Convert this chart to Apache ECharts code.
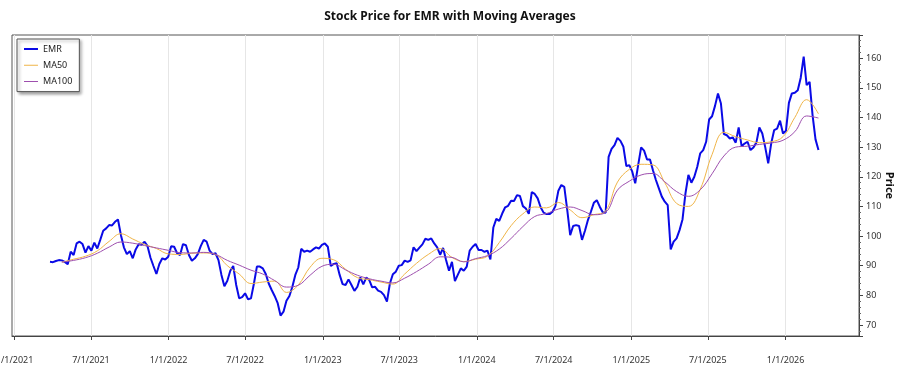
<!DOCTYPE html>
<html>
<head>
<meta charset="utf-8">
<script src="https://cdn.jsdelivr.net/npm/echarts@6/dist/echarts.min.js"></script>
<style>
    html, body { margin: 0; padding: 0; background: #fff; }
    #chart { width: 900px; height: 375px; }
</style>
</head>
<body>
<div id="chart"></div>
<script>
//周收盘日期
let dates = [
    '2021-03-26', '2021-04-02', '2021-04-09', '2021-04-16', '2021-04-23', '2021-04-30', '2021-05-07', '2021-05-14', '2021-05-21', '2021-05-28',
    '2021-06-04', '2021-06-11', '2021-06-18', '2021-06-25', '2021-07-02', '2021-07-09', '2021-07-16', '2021-07-23', '2021-07-30', '2021-08-06',
    '2021-08-13', '2021-08-20', '2021-08-27', '2021-09-03', '2021-09-10', '2021-09-17', '2021-09-24', '2021-10-01', '2021-10-08', '2021-10-15',
    '2021-10-22', '2021-10-29', '2021-11-05', '2021-11-12', '2021-11-19', '2021-11-26', '2021-12-03', '2021-12-10', '2021-12-17', '2021-12-24',
    '2021-12-31',
    '2022-01-07', '2022-01-14', '2022-01-21', '2022-01-28', '2022-02-04', '2022-02-11', '2022-02-18', '2022-02-25', '2022-03-04', '2022-03-11',
    '2022-03-18', '2022-03-25', '2022-04-01', '2022-04-08', '2022-04-15', '2022-04-22', '2022-04-29', '2022-05-06', '2022-05-13', '2022-05-20',
    '2022-05-27', '2022-06-03', '2022-06-10', '2022-06-17', '2022-06-24', '2022-07-01', '2022-07-08', '2022-07-15', '2022-07-22', '2022-07-29',
    '2022-08-05', '2022-08-12', '2022-08-19', '2022-08-26', '2022-09-02', '2022-09-09', '2022-09-16', '2022-09-23', '2022-09-30', '2022-10-07',
    '2022-10-14', '2022-10-21', '2022-10-28', '2022-11-04', '2022-11-11', '2022-11-18', '2022-11-25', '2022-12-02', '2022-12-09', '2022-12-16',
    '2022-12-23', '2022-12-30',
    '2023-01-06', '2023-01-13', '2023-01-20', '2023-01-27', '2023-02-03', '2023-02-10', '2023-02-17', '2023-02-24', '2023-03-03', '2023-03-10',
    '2023-03-17', '2023-03-24', '2023-03-31', '2023-04-07', '2023-04-14', '2023-04-21', '2023-04-28', '2023-05-05', '2023-05-12', '2023-05-19',
    '2023-05-26', '2023-06-02', '2023-06-09', '2023-06-16', '2023-06-23', '2023-06-30', '2023-07-07', '2023-07-14', '2023-07-21', '2023-07-28',
    '2023-08-04', '2023-08-11', '2023-08-18', '2023-08-25', '2023-09-01', '2023-09-08', '2023-09-15', '2023-09-22', '2023-09-29', '2023-10-06',
    '2023-10-13', '2023-10-20', '2023-10-27', '2023-11-03', '2023-11-10', '2023-11-17', '2023-11-24', '2023-12-01', '2023-12-08', '2023-12-15',
    '2023-12-22', '2023-12-29',
    '2024-01-05', '2024-01-12', '2024-01-19', '2024-01-26', '2024-02-02', '2024-02-09', '2024-02-16', '2024-02-23', '2024-03-01', '2024-03-08',
    '2024-03-15', '2024-03-22', '2024-03-29', '2024-04-05', '2024-04-12', '2024-04-19', '2024-04-26', '2024-05-03', '2024-05-10', '2024-05-17',
    '2024-05-24', '2024-05-31', '2024-06-07', '2024-06-14', '2024-06-21', '2024-06-28', '2024-07-05', '2024-07-12', '2024-07-19', '2024-07-26',
    '2024-08-02', '2024-08-09', '2024-08-16', '2024-08-23', '2024-08-30', '2024-09-06', '2024-09-13', '2024-09-20', '2024-09-27', '2024-10-04',
    '2024-10-11', '2024-10-18', '2024-10-25', '2024-11-01', '2024-11-08', '2024-11-15', '2024-11-22', '2024-11-29', '2024-12-06', '2024-12-13',
    '2024-12-20', '2024-12-27',
    '2025-01-03', '2025-01-10', '2025-01-17', '2025-01-24', '2025-01-31', '2025-02-07', '2025-02-14', '2025-02-21', '2025-02-28', '2025-03-07',
    '2025-03-14', '2025-03-21', '2025-03-28', '2025-04-04', '2025-04-11', '2025-04-18', '2025-04-25', '2025-05-02', '2025-05-09', '2025-05-16',
    '2025-05-23', '2025-05-30', '2025-06-06', '2025-06-13', '2025-06-20', '2025-06-27', '2025-07-04', '2025-07-11', '2025-07-18', '2025-07-25',
    '2025-08-01', '2025-08-08', '2025-08-15', '2025-08-22', '2025-08-29', '2025-09-05', '2025-09-12', '2025-09-19', '2025-09-26', '2025-10-03',
    '2025-10-10', '2025-10-17', '2025-10-24', '2025-10-31', '2025-11-07', '2025-11-14', '2025-11-21', '2025-11-28', '2025-12-05', '2025-12-12',
    '2025-12-19', '2025-12-26',
    '2026-01-02', '2026-01-09', '2026-01-16', '2026-01-23', '2026-01-30', '2026-02-06', '2026-02-13', '2026-02-20', '2026-02-27', '2026-03-06',
    '2026-03-13', '2026-03-20'
];
//EMR收盘价
let emr = [
    91.3, 91.2, 91.6, 91.9, 91.8, 91.3, 90.5, 94.7, 93.6, 97.5,
    98.1, 97.3, 94.4, 96.6, 95.1, 97.8, 95.8, 98.7, 101.8, 102.6,
    103.7, 103.6, 104.8, 105.6, 100.3, 96.2, 93.9, 94.9, 92.5, 95.5,
    97.2, 97.1, 98.1, 96.6, 92.7, 89.9, 87.2, 90.6, 92.5, 92.1,
    93.0, 96.6, 96.4, 94.2, 93.6, 97.3, 96.9, 93.6, 91.7, 92.5,
    93.9, 96.6, 98.7, 98.1, 95.1, 93.9, 94.2, 91.9, 86.9, 83.1,
    84.9, 88.3, 89.9, 83.5, 79.0, 79.4, 80.7, 78.7, 79.0, 84.0,
    89.7, 89.7, 89.1, 87.2, 84.0, 81.8, 79.8, 77.5, 73.2, 74.5,
    78.2, 79.8, 82.9, 86.9, 89.4, 95.7, 94.7, 95.1, 94.7, 95.5,
    96.2, 95.8, 97.0, 97.5, 96.4, 89.9, 90.6, 90.8, 86.9, 83.8,
    83.5, 85.4, 83.5, 81.5, 82.9, 86.1, 83.7, 86.0, 85.2, 82.7,
    82.9, 81.6, 81.2, 80.1, 77.9, 84.0, 87.1, 88.0, 90.0, 90.2,
    91.7, 91.3, 91.8, 96.2, 94.9, 96.1, 97.2, 99.1, 98.7, 99.2,
    97.5, 96.2, 93.7, 96.0, 91.9, 88.3, 91.3, 84.8, 87.0, 89.1,
    88.3, 89.7, 95.1, 96.4, 97.3, 95.3, 95.3, 94.7, 95.1, 92.1,
    102.9, 105.8, 105.1, 107.6, 109.7, 110.2, 111.9, 111.8, 113.8, 113.5,
    110.1, 109.3, 107.5, 114.8, 114.2, 112.7, 109.7, 107.9, 107.4, 107.4,
    108.2, 110.1, 115.3, 117.2, 116.6, 108.8, 100.3, 103.4, 103.7, 103.4,
    98.7, 101.8, 105.4, 108.2, 111.2, 112.1, 109.9, 108.0, 107.9, 126.7,
    129.4, 130.7, 133.1, 132.1, 130.1, 123.6, 123.9, 121.7, 117.8, 123.9,
    129.9, 128.8, 125.8, 125.8, 122.2, 118.9, 116.1, 113.3, 111.6, 110.4,
    95.5, 98.1, 99.2, 102.0, 105.6, 114.4, 120.6, 118.0, 120.0, 123.4,
    127.9, 129.0, 131.8, 139.3, 140.4, 143.9, 148.1, 144.7, 134.4, 134.0,
    132.9, 133.3, 131.5, 136.6, 130.3, 131.2, 131.8, 129.0, 129.9, 131.5,
    136.6, 134.6, 129.9, 124.5, 131.2, 135.7, 136.2, 138.9, 134.6, 135.5,
    144.9, 148.1, 148.3, 149.2, 153.4, 160.5, 150.9, 152.0, 140.8, 132.6,
    129.0
];
//均线取样日期（每四周）
let maDates = [
    '2021-04-23', '2021-05-21', '2021-06-18', '2021-07-16', '2021-08-13', '2021-09-10', '2021-10-08', '2021-11-05', '2021-12-03', '2021-12-31',
    '2022-01-28', '2022-02-25', '2022-03-25', '2022-04-22', '2022-05-20', '2022-06-17', '2022-07-15', '2022-08-12', '2022-09-09', '2022-10-07',
    '2022-11-04', '2022-12-02', '2022-12-30', '2023-01-27', '2023-02-24', '2023-03-24', '2023-04-21', '2023-05-19', '2023-06-16', '2023-07-14',
    '2023-08-11', '2023-09-08', '2023-10-06', '2023-11-03', '2023-12-01', '2023-12-29', '2024-01-26', '2024-02-23', '2024-03-22', '2024-04-19',
    '2024-05-17', '2024-06-14', '2024-07-12', '2024-08-09', '2024-09-06', '2024-10-04', '2024-11-01', '2024-11-29', '2024-12-27', '2025-01-24',
    '2025-02-21', '2025-03-21', '2025-04-18', '2025-05-16', '2025-06-13', '2025-07-11', '2025-08-08', '2025-09-05', '2025-10-03', '2025-10-31',
    '2025-11-28', '2025-12-26', '2026-01-23', '2026-02-20', '2026-03-20'
];
let ma50 = [
    91.2, 92.2, 93.2, 95.0, 98.2, 100.8, 99.0, 97.2, 95.8, 94.0,
    93.8, 94.2, 94.3, 93.8, 90.0, 87.2, 84.0, 84.5, 84.8, 81.0,
    83.5, 89.5, 92.5, 92.0, 88.8, 86.0, 85.3, 84.5, 83.8, 87.2,
    90.8, 93.8, 95.8, 92.8, 91.4, 92.2, 93.2, 97.8, 103.5, 107.5,
    109.8, 109.5, 111.3, 108.8, 106.2, 107.2, 108.5, 118.2, 122.5, 124.2,
    124.0, 118.0, 111.0, 110.0, 115.8, 127.5, 135.0, 133.5, 132.4, 131.5,
    131.8, 133.5, 140.0, 146.0, 141.2
];
let ma100 = [
    91.2, 91.8, 92.7, 94.2, 96.3, 98.0, 97.6, 96.8, 96.0, 95.2,
    94.4, 94.3, 94.5, 93.8, 91.8, 90.2, 88.5, 87.2, 85.0, 82.8,
    83.4, 86.8, 89.8, 90.5, 88.6, 86.8, 85.6, 84.8, 84.2, 85.8,
    88.0, 90.5, 93.0, 92.8, 91.3, 92.4, 93.4, 95.6, 99.2, 103.2,
    106.6, 107.6, 109.1, 109.8, 108.6, 107.2, 108.0, 115.5, 118.5, 120.6,
    121.1, 118.3, 115.0, 113.4, 115.6, 121.0, 127.0, 130.0, 130.3, 130.9,
    131.4, 132.3, 135.2, 140.5, 139.8
];
//横轴刻度
let tickDates = [
    '2021-01-01', '2021-07-01', '2022-01-01', '2022-07-01', '2023-01-01', '2023-07-01',
    '2024-01-01', '2024-07-01', '2025-01-01', '2025-07-01', '2026-01-01'
];

let font = "'Segoe UI', 'Noto Sans', sans-serif";
let toTime = function (s) {
    return +new Date(s + 'T00:00:00');
};
let tickValues = tickDates.map(toTime);
//图例线段图标（不同线宽）
let thickIcon = 'path://M0,0H0.01V0.01H0Z M0,2H14V4H0Z M0,6H0.01V6.01H0Z';
let thinIcon = 'path://M0,0H0.01V0.01H0Z M0,2.5H14V3.5H0Z M0,6H0.01V6.01H0Z';

var myChart = echarts.init(document.getElementById('chart'));
var option = {
    animation: false,
    backgroundColor: '#fff',
    title: {
        text: 'Stock Price for EMR with Moving Averages',
        left: 'center',
        top: 6,
        textStyle: { fontSize: 12, fontWeight: 'bold', color: '#111', fontFamily: font }
    },
    legend: {
        orient: 'vertical',
        left: 17,
        top: 39,
        data: [
            { name: 'EMR', icon: thickIcon },
            { name: 'MA50', icon: thinIcon },
            { name: 'MA100', icon: thinIcon }
        ],
        itemWidth: 14,
        itemHeight: 6,
        itemGap: 4.3,
        padding: [4, 7, 4, 7],
        borderColor: '#555',
        borderWidth: 1,
        backgroundColor: '#fff',
        shadowColor: 'rgba(0,0,0,0.35)',
        shadowBlur: 3,
        shadowOffsetX: 2,
        shadowOffsetY: 2,
        textStyle: { fontSize: 9, lineHeight: 12, color: '#222', fontFamily: font }
    },
    grid: {
        left: 12,
        right: 41,
        top: 35,
        bottom: 39,
        outerBoundsMode: 'none',
        containLabel: false,
        show: true,
        borderColor: '#555',
        borderWidth: 1
    },
    xAxis: {
        type: 'value',
        min: toTime('2020-12-26'),
        max: toTime('2026-06-24'),
        axisLine: { show: true, onZero: false, lineStyle: { color: '#444' } },
        axisTick: { show: true, length: 4, customValues: tickValues, lineStyle: { color: '#444' } },
        axisLabel: {
            customValues: tickValues,
            margin: 20,
            fontSize: 9,
            color: '#333',
            fontFamily: font,
            formatter: function (v) {
                let d = new Date(v);
                return (d.getMonth() + 1) + '/' + d.getDate() + '/' + d.getFullYear();
            }
        },
        splitLine: { show: true, lineStyle: { color: '#e6e6e6' } }
    },
    yAxis: {
        type: 'value',
        position: 'right',
        min: 66.3,
        max: 167.8,
        splitNumber: 10,
        name: 'Price',
        nameLocation: 'middle',
        nameGap: 25,
        nameRotate: -90,
        nameMoveOverlap: false,
        nameTextStyle: { fontSize: 11, fontWeight: 'bold', color: '#111', fontFamily: font },
        axisLine: { show: true, lineStyle: { color: '#444' } },
        axisTick: { show: true, length: 4, lineStyle: { color: '#444' } },
        minorTick: { show: true, splitNumber: 5, length: 2, lineStyle: { color: '#666' } },
        axisLabel: {
            margin: 7,
            fontSize: 9,
            color: '#333',
            fontFamily: font,
            formatter: function (v) {
                return Math.abs(v % 10) < 1e-6 ? String(v) : '';
            }
        },
        splitLine: { show: false }
    },
    series: [{
        name: 'EMR',
        type: 'line',
        symbol: 'none',
        data: dates.map(function (d, i) { return [toTime(d), emr[i]]; }),
        itemStyle: { color: '#0a0ae6' },
        lineStyle: { color: '#0a0ae6', width: 2 }
    }, {
        name: 'MA50',
        type: 'line',
        symbol: 'none',
        smooth: 0.4,
        data: maDates.map(function (d, i) { return [toTime(d), ma50[i]]; }),
        itemStyle: { color: '#f0b548' },
        lineStyle: { color: '#f0b548', width: 1 }
    }, {
        name: 'MA100',
        type: 'line',
        symbol: 'none',
        smooth: 0.4,
        data: maDates.map(function (d, i) { return [toTime(d), ma100[i]]; }),
        itemStyle: { color: '#9e4fae' },
        lineStyle: { color: '#9e4fae', width: 1 }
    }]
};
myChart.setOption(option);
</script>
</body>
</html>
